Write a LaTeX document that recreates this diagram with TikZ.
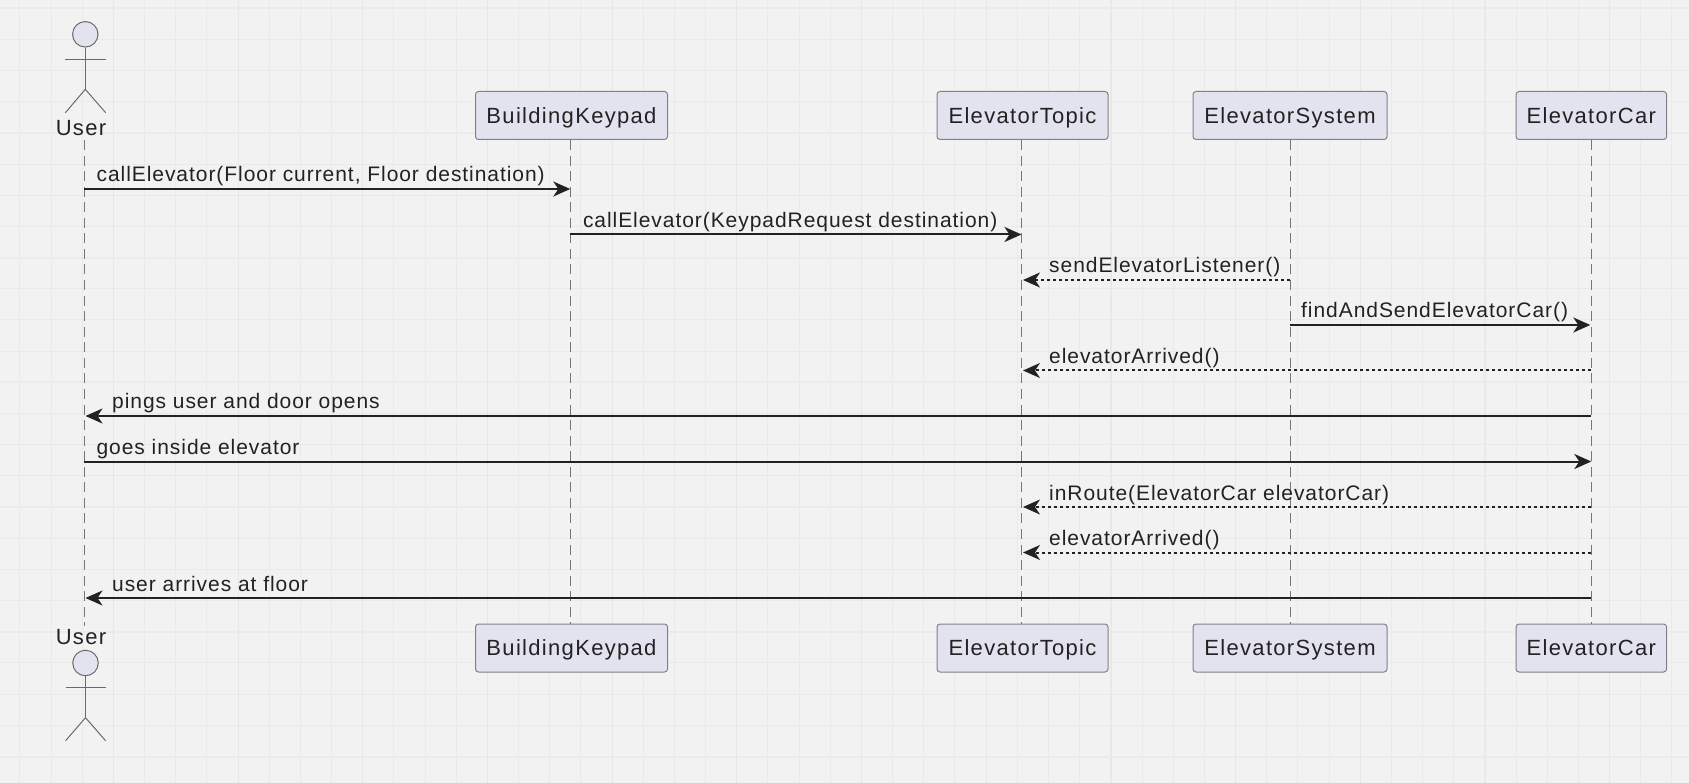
\documentclass[tikz,border=0pt]{standalone}
\usepackage{fontspec}
\setmainfont{Liberation Sans}
\newfontfamily\boxfont[LetterSpace=6]{Liberation Sans}
\newfontfamily\msgfont[LetterSpace=4.5]{Liberation Sans}
\usetikzlibrary{arrows.meta}
\definecolor{bgc}{HTML}{F2F2F2}
\definecolor{minorc}{HTML}{EAEAEA}
\definecolor{majorh}{HTML}{EBEBEB}
\definecolor{majorv}{HTML}{E7E7E7}
\definecolor{boxfill}{HTML}{E3E3F0}
\definecolor{boxline}{HTML}{808088}
\definecolor{lifec}{HTML}{767676}
\definecolor{inkc}{HTML}{222222}
\tikzset{
  x=1pt,y=-1pt,
  actorbox/.style={draw=boxline,fill=boxfill,line width=1pt,rounded corners=3pt,minimum height=48pt,inner xsep=0pt,inner ysep=0pt,text height=15.6pt,text depth=0pt,text=inkc,font=\boxfont\fontsize{22pt}{26pt}\selectfont,anchor=center},
  lifeline/.style={draw=lifec,line width=1pt,dash pattern=on 10pt off 5.56pt},
  msg/.style={draw=inkc,line width=2pt,-{Stealth[length=17pt,width=15pt,inset=5pt]}},
  reply/.style={msg,dash pattern=on 3pt off 3pt},
  msgtext/.style={anchor=base west,inner sep=0pt,text=inkc,font=\msgfont\fontsize{21pt}{25pt}\selectfont},
  stick/.style={draw=lifec!90!black,line width=1pt},
  head/.style={circle,draw=lifec!90!black,fill=boxfill,line width=1pt,minimum size=25.5pt,inner sep=0pt},
  actorname/.style={anchor=base,inner sep=0pt,text=inkc,font=\boxfont\fontsize{22pt}{26pt}\selectfont},
}
\begin{document}
\begin{tikzpicture}
\useasboundingbox (0,0) rectangle (1689,783);
\fill[bgc] (0,0) rectangle (1689,783);
% grid
\foreach \k in {0,...,54}{
  \draw[minorc,line width=1pt] ({-11.3+31.17*\k},0) -- ({-11.3+31.17*\k},783);}
\foreach \k in {0,...,25}{
  \draw[minorc,line width=1pt] (0,{8.3+31.17*\k}) -- (1689,{8.3+31.17*\k});}
\foreach \k in {0,...,13}{
  \draw[majorv,line width=1pt] ({113.4+124.7*(\k-1)},0) -- ({113.4+124.7*(\k-1)},783);}
\foreach \k in {0,...,6}{
  \draw[majorh,line width=2pt] (0,{8.3+124.7*\k}) -- (1689,{8.3+124.7*\k});}

% participants
\node[actorbox,minimum width=192pt] (bkT) at (571.5,115.5) {BuildingKeypad};
\node[actorbox,minimum width=171pt] (etT) at (1022.5,115.5) {ElevatorTopic};
\node[actorbox,minimum width=194pt] (esT) at (1290,115.5) {ElevatorSystem};
\node[actorbox,minimum width=150.5pt] (ecT) at (1591.3,115.5) {ElevatorCar};
\node[actorbox,minimum width=192pt] (bkB) at (571.5,648) {BuildingKeypad};
\node[actorbox,minimum width=171pt] (etB) at (1022.5,648) {ElevatorTopic};
\node[actorbox,minimum width=194pt] (esB) at (1290,648) {ElevatorSystem};
\node[actorbox,minimum width=150.5pt] (ecB) at (1591.3,648) {ElevatorCar};

% lifelines' x positions
\def\xU{84}\def\xB{570.3}\def\xT{1021.5}\def\xS{1290}\def\xC{1591.3}

% lifelines
\coordinate (uT) at (\xU,140);
\coordinate (uB) at (\xU,626);
\coordinate (bT) at (\xB,140);
\coordinate (bB) at (\xB,624);
\coordinate (tT) at (\xT,140);
\coordinate (tB) at (\xT,624);
\coordinate (sT) at (\xS,140);
\coordinate (sB) at (\xS,624);
\coordinate (cT) at (\xC,140);
\coordinate (cB) at (\xC,624);
\draw[lifeline] (uT) -- (uB);
\draw[lifeline] (bT) -- (bB);
\draw[lifeline] (tT) -- (tB);
\draw[lifeline] (sT) -- (sB);
\draw[lifeline] (cT) -- (cB);

% actor top
\node[head] (headT) at (85.3,34.3) {};
\coordinate (hipT) at (85.3,89.3);
\coordinate (armLT) at (65.4,59.3);
\coordinate (armRT) at (105.6,59.3);
\coordinate (legLT) at (65.4,112.7);
\coordinate (legRT) at (105.6,112.7);
\draw[stick] (headT.south) -- (hipT);
\draw[stick] (armLT) -- (armRT);
\draw[stick] (legLT) -- (hipT) -- (legRT);
\node[actorname] (userT) at (81,135.7) {User};

% actor bottom
\coordinate (hipB) at (85.5,717.7);
\node[head] (headB) at (85.5,663) {};
\coordinate (armLB) at (65.6,687.7);
\coordinate (armRB) at (105.6,687.7);
\coordinate (legLB) at (65.6,740.7);
\coordinate (legRB) at (105.6,740.7);
\draw[stick] (headB.south) -- (hipB);
\draw[stick] (armLB) -- (armRB);
\draw[stick] (legLB) -- (hipB) -- (legRB);
\node[actorname] (userB) at (81,644.5) {User};

% messages
\coordinate (m1a) at (\xU,189);   \coordinate (m1b) at (\xB,189);
\coordinate (m2a) at (\xB,234.5); \coordinate (m2b) at (\xT,234.5);
\coordinate (m3a) at (\xS,280);   \coordinate (m3b) at (\xT+1.5,280);
\coordinate (m4a) at (\xS,325);   \coordinate (m4b) at (\xC-1,325);
\coordinate (m5a) at (\xC,370.5); \coordinate (m5b) at (\xT+1.5,370.5);
\coordinate (m6a) at (\xC,416);   \coordinate (m6b) at (\xU+1.5,416);
\coordinate (m7a) at (\xU,461.5); \coordinate (m7b) at (\xC,461.5);
\coordinate (m8a) at (\xC,507);   \coordinate (m8b) at (\xT+1.5,507);
\coordinate (m9a) at (\xC,552.5); \coordinate (m9b) at (\xT+1.5,552.5);
\coordinate (m10a) at (\xC,598);  \coordinate (m10b) at (\xU+1.5,598);
\draw[msg] (m1a) -- (m1b);
\draw[msg] (m2a) -- (m2b);
\draw[reply] (m3a) -- (m3b);
\draw[msg] (m4a) -- (m4b);
\draw[reply] (m5a) -- (m5b);
\draw[msg] (m6a) -- (m6b);
\draw[msg] (m7a) -- (m7b);
\draw[reply] (m8a) -- (m8b);
\draw[reply] (m9a) -- (m9b);
\draw[msg] (m10a) -- (m10b);

\node[msgtext] (t1) at (96.4,182) {callElevator(Floor current, Floor destination)};
\node[msgtext] (t2) at (582.8,227.5) {callElevator(KeypadRequest destination)};
\node[msgtext] (t3) at (1049,273) {sendElevatorListener()};
\node[msgtext] (t4) at (1301,318) {findAndSendElevatorCar()};
\node[msgtext] (t5) at (1049,363.5) {elevatorArrived()};
\node[msgtext] (t6) at (112,409) {pings user and door opens};
\node[msgtext] (t7) at (96.4,454.5) {goes inside elevator};
\node[msgtext] (t8) at (1049,500) {inRoute(ElevatorCar elevatorCar)};
\node[msgtext] (t9) at (1049,545.5) {elevatorArrived()};
\node[msgtext] (t10) at (112,591) {user arrives at floor};
\end{tikzpicture}
\end{document}
